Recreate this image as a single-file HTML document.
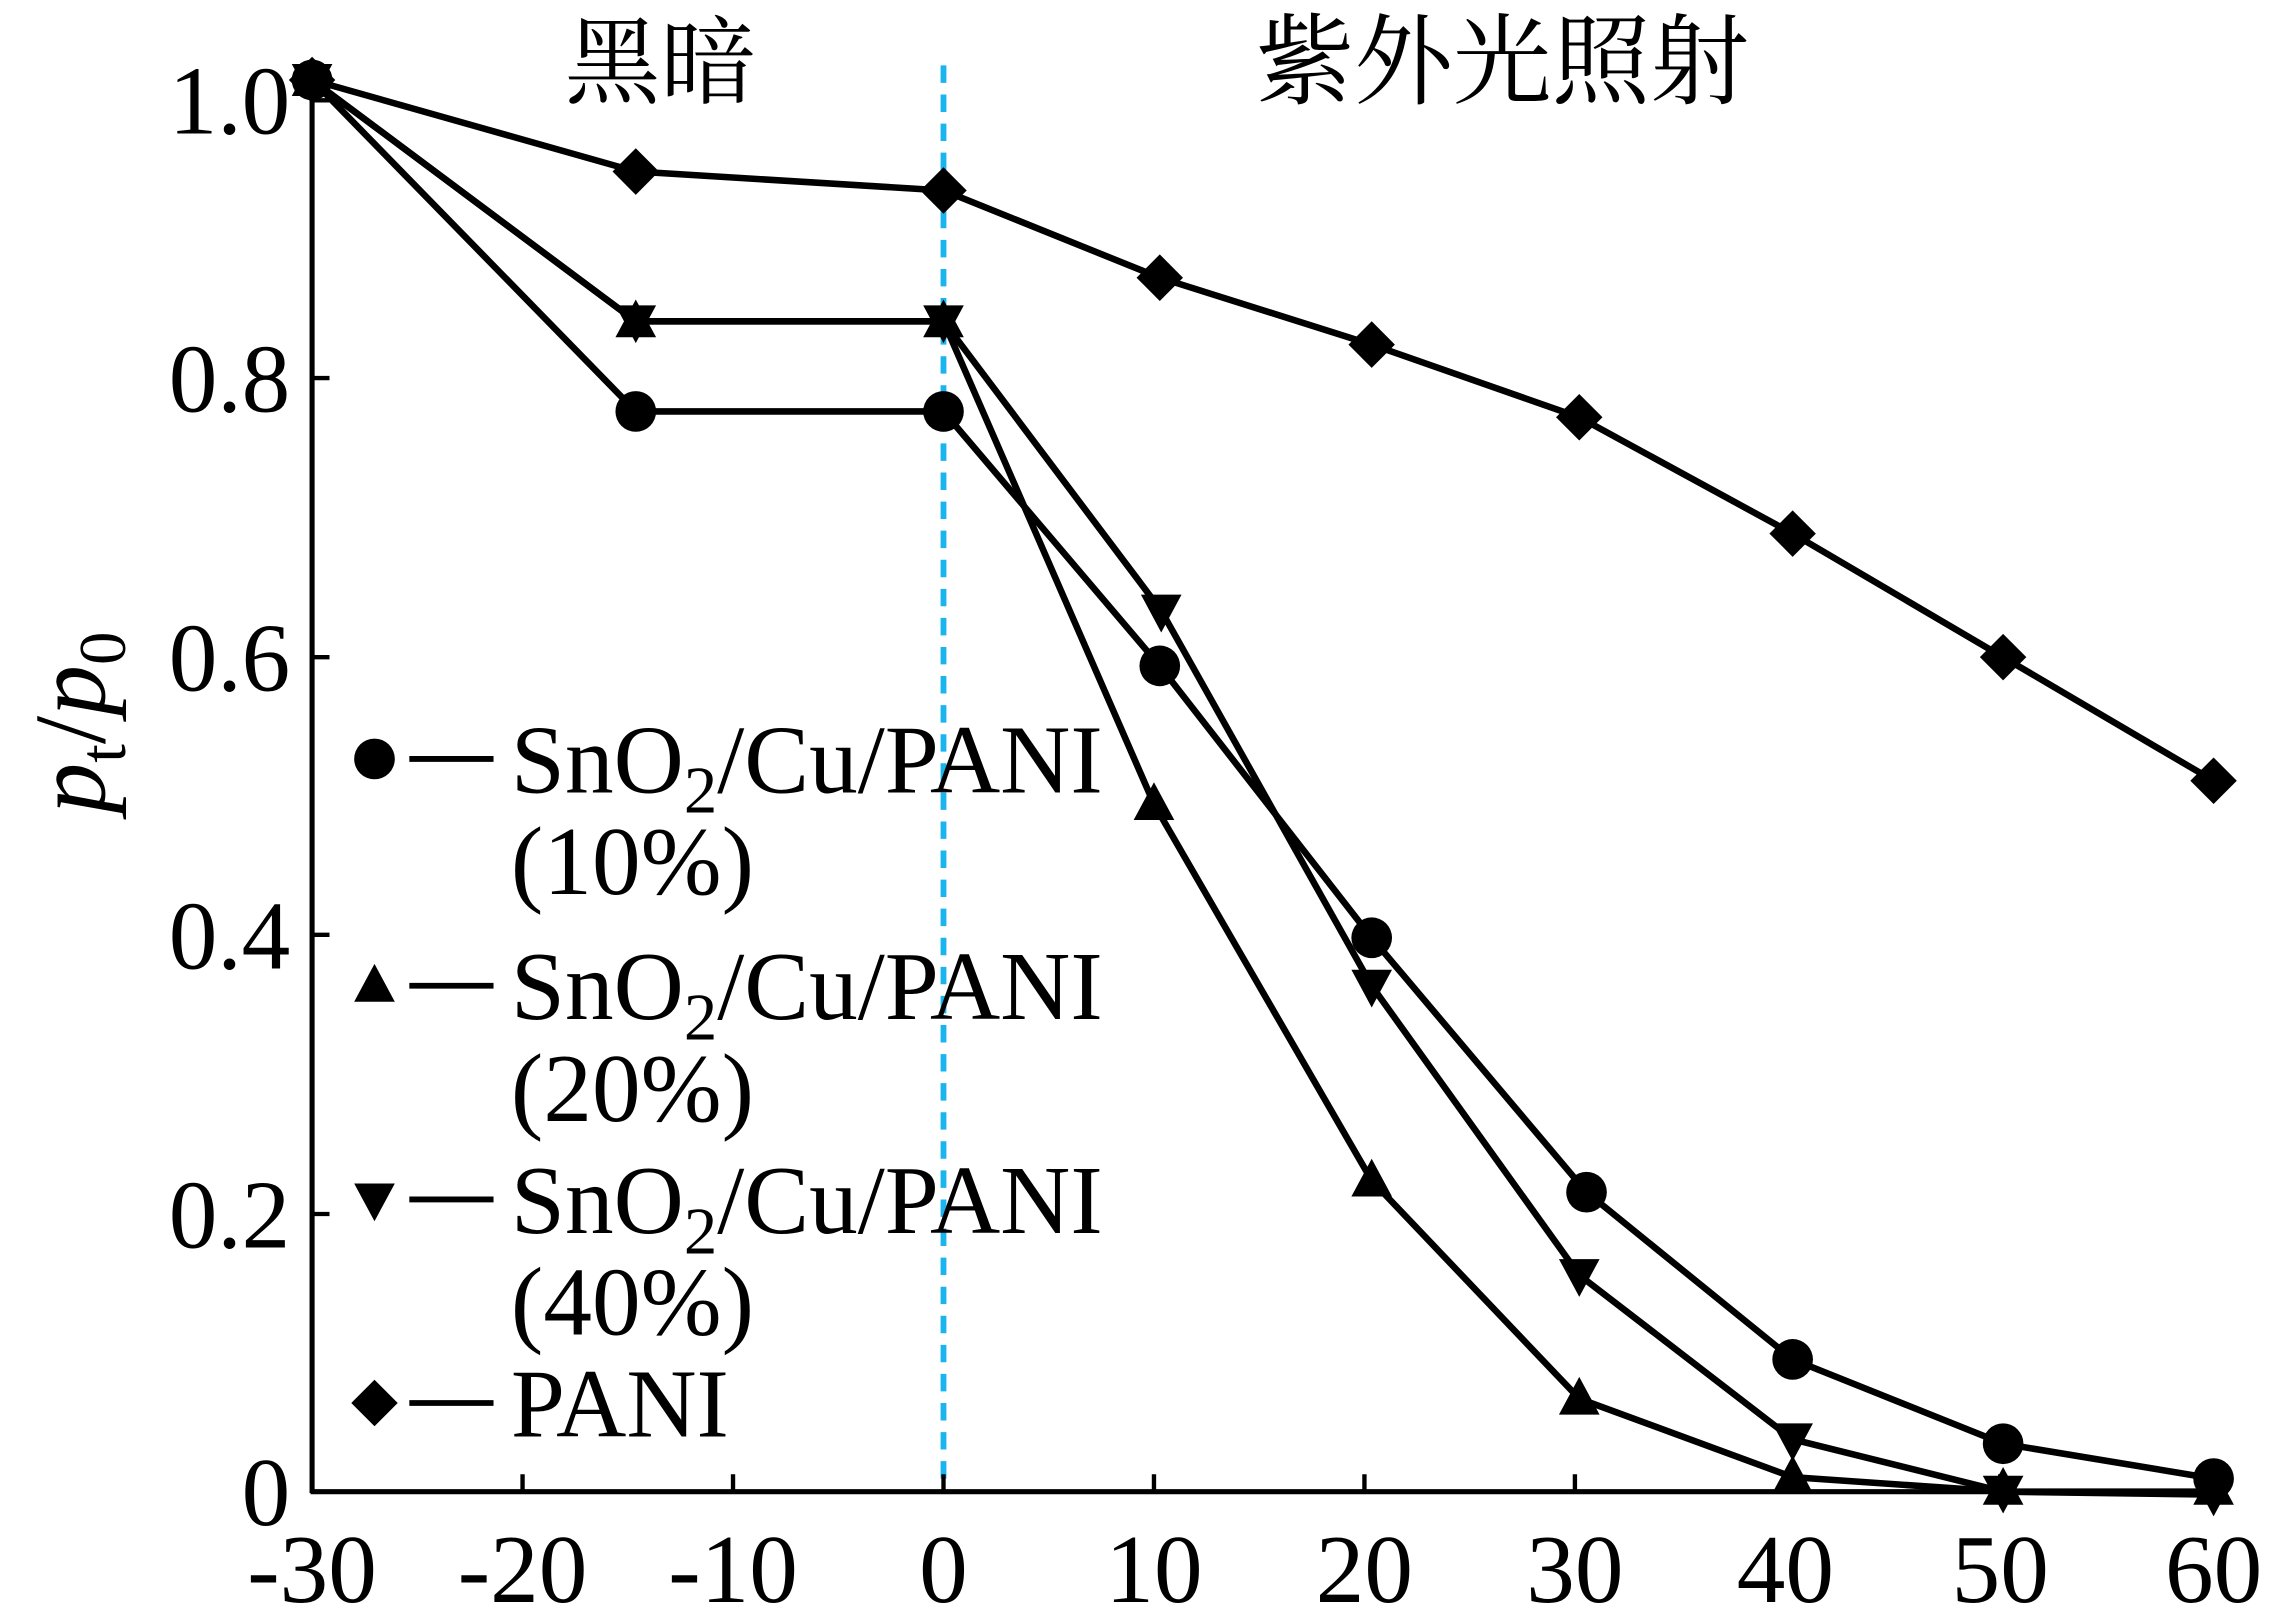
<!DOCTYPE html>
<html><head><meta charset="utf-8"><style>
html,body{margin:0;padding:0;background:#fff;}
svg{display:block;}
text{font-family:"Liberation Serif","Noto Serif CJK SC",serif;fill:#000;}
</style></head><body>
<svg width="2276" height="1608" viewBox="0 0 1568 1106" preserveAspectRatio="none" xmlns="http://www.w3.org/2000/svg">
<defs>
<g id="c"><circle r="14" fill="#000"/></g>
<g id="t"><polygon points="0,-15 14,11 -14,11" fill="#000"/></g>
<g id="d"><polygon points="0,15 14,-11 -14,-11" fill="#000"/></g>
<g id="m"><polygon points="0,-16 16,0 0,16 -16,0" fill="#000"/></g>
</defs>
<line x1="215" y1="50" x2="215" y2="1027" stroke="#000" stroke-width="3.5"/>
<line x1="214" y1="1026" x2="1530" y2="1026" stroke="#000" stroke-width="3.5"/>
<line x1="650" y1="45" x2="650" y2="1024" stroke="#1ab4ee" stroke-width="4" stroke-dasharray="12,8"/>
<g stroke="#000" stroke-width="3">
<line x1="360" y1="1026" x2="360" y2="1014"/><line x1="505" y1="1026" x2="505" y2="1014"/>
<line x1="650" y1="1026" x2="650" y2="1014"/><line x1="795" y1="1026" x2="795" y2="1014"/>
<line x1="940" y1="1026" x2="940" y2="1014"/><line x1="1085" y1="1026" x2="1085" y2="1014"/>
<line x1="1230" y1="1026" x2="1230" y2="1014"/><line x1="1378" y1="1026" x2="1378" y2="1014"/>
<line x1="1525" y1="1026" x2="1525" y2="1014"/>
<line x1="215" y1="835" x2="227" y2="835"/><line x1="215" y1="643" x2="227" y2="643"/>
<line x1="215" y1="452" x2="227" y2="452"/><line x1="215" y1="260" x2="227" y2="260"/>
<line x1="215" y1="69" x2="227" y2="69"/>
</g>
<g font-size="67" text-anchor="middle">
<text x="215" y="1102">-30</text><text x="360" y="1102">-20</text><text x="505" y="1102">-10</text>
<text x="650" y="1102">0</text><text x="795" y="1102">10</text><text x="940" y="1102">20</text>
<text x="1085" y="1102">30</text><text x="1230" y="1102">40</text><text x="1378" y="1102">50</text>
<text x="1525" y="1102">60</text>
</g>
<g font-size="67" text-anchor="end">
<text x="200" y="1049">0</text><text x="200" y="858">0.2</text><text x="200" y="666">0.4</text>
<text x="200" y="475">0.6</text><text x="200" y="283">0.8</text><text x="200" y="92">1.0</text>
</g>
<text transform="translate(72,497) rotate(-90)" font-size="70" text-anchor="middle"><tspan font-style="italic">p</tspan><tspan font-size="46" dy="14">t</tspan><tspan dy="-14">/</tspan><tspan font-style="italic">p</tspan><tspan font-size="46" dy="14">0</tspan></text>
<text x="455" y="66" font-size="66" text-anchor="middle">黑暗</text>
<text x="1035" y="66" font-size="68" text-anchor="middle">紫外光照射</text>
<g fill="none" stroke="#000" stroke-width="4.5">
<polyline points="215,55 438,283 650,283 799,458 945,645 1093,820 1235,935 1380,993 1525,1017"/>
<polyline points="215,55 438,221 650,221 795,553 945,812 1088,962 1235,1016 1380,1026 1525,1026"/>
<polyline points="215,55 438,221 650,221 800,420 945,678 1088,877 1235,990 1380,1026 1525,1028"/>
<polyline points="215,55 438,118 650,131 799,191 945,237 1088,287 1235,367 1380,452 1525,537"/>
</g>
<g>
<use href="#c" x="215" y="55"/><use href="#c" x="438" y="283"/><use href="#c" x="650" y="283"/><use href="#c" x="799" y="458"/><use href="#c" x="945" y="645"/><use href="#c" x="1093" y="820"/><use href="#c" x="1235" y="935"/><use href="#c" x="1380" y="993"/><use href="#c" x="1525" y="1017"/>
<use href="#t" x="215" y="55"/><use href="#t" x="438" y="221"/><use href="#t" x="650" y="221"/><use href="#t" x="795" y="553"/><use href="#t" x="945" y="812"/><use href="#t" x="1088" y="962"/><use href="#t" x="1235" y="1016"/><use href="#t" x="1380" y="1024"/><use href="#t" x="1525" y="1024"/>
<use href="#d" x="215" y="55"/><use href="#d" x="438" y="221"/><use href="#d" x="650" y="221"/><use href="#d" x="800" y="420"/><use href="#d" x="945" y="678"/><use href="#d" x="1088" y="877"/><use href="#d" x="1235" y="990"/><use href="#d" x="1380" y="1026"/><use href="#d" x="1525" y="1028"/>
<use href="#m" x="215" y="55"/><use href="#m" x="438" y="118"/><use href="#m" x="650" y="131"/><use href="#m" x="799" y="191"/><use href="#m" x="945" y="237"/><use href="#m" x="1088" y="287"/><use href="#m" x="1235" y="367"/><use href="#m" x="1380" y="452"/><use href="#m" x="1525" y="537"/>
</g>
<g stroke="#000" stroke-width="4">
<line x1="282" y1="522" x2="340" y2="522"/><line x1="282" y1="678" x2="340" y2="678"/>
<line x1="282" y1="825" x2="340" y2="825"/><line x1="282" y1="965" x2="340" y2="965"/>
</g>
<use href="#c" x="258" y="522"/><use href="#t" x="258" y="678"/><use href="#d" x="258" y="825"/><use href="#m" x="258" y="965"/>
<g font-size="67">
<text x="352" y="545">SnO<tspan font-size="46" dy="14">2</tspan><tspan dy="-14">/Cu/PANI</tspan></text>
<text x="352" y="615">(10%)</text>
<text x="352" y="701">SnO<tspan font-size="46" dy="14">2</tspan><tspan dy="-14">/Cu/PANI</tspan></text>
<text x="352" y="771">(20%)</text>
<text x="352" y="848">SnO<tspan font-size="46" dy="14">2</tspan><tspan dy="-14">/Cu/PANI</tspan></text>
<text x="352" y="918">(40%)</text>
<text x="352" y="988">PANI</text>
</g>
</svg>
</body></html>
